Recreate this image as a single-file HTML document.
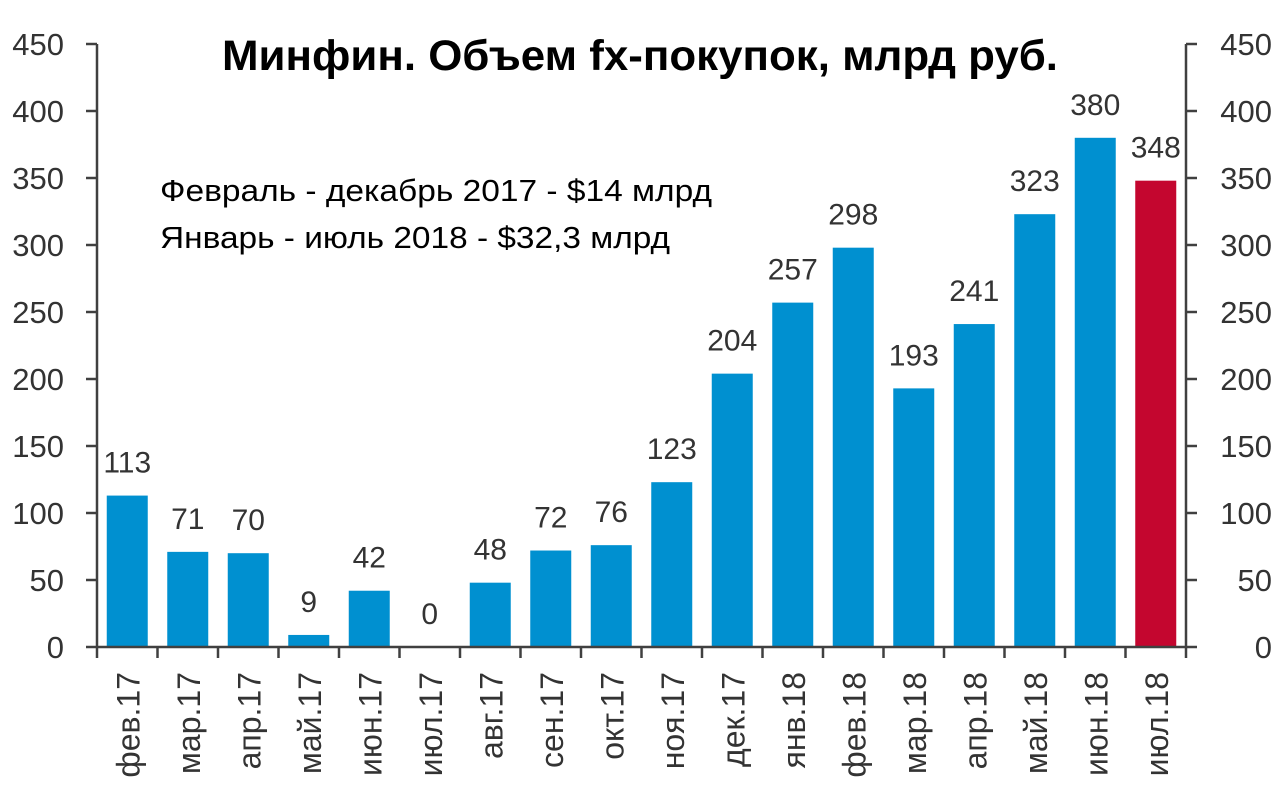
<!DOCTYPE html>
<html><head><meta charset="utf-8"><style>
body{margin:0;background:#fff;}
svg{display:block;font-family:"Liberation Sans","DejaVu Sans",sans-serif;}
</style></head><body>
<svg id="chart" width="1280" height="791">
<text x="640" y="70" text-anchor="middle" font-size="43" font-weight="bold" fill="#000" textLength="836" lengthAdjust="spacingAndGlyphs">Минфин. Объем fx-покупок, млрд руб.</text>
<text x="160" y="201" font-size="31" fill="#000" textLength="552" lengthAdjust="spacingAndGlyphs">Февраль - декабрь 2017 - $14 млрд</text>
<text x="160" y="248" font-size="31" fill="#000" textLength="510" lengthAdjust="spacingAndGlyphs">Январь - июль 2018 - $32,3 млрд</text>
<g id="plot"></g>
</svg>
<script>
const categories=["фев.17","мар.17","апр.17","май.17","июн.17","июл.17","авг.17","сен.17","окт.17","ноя.17","дек.17","янв.18","фев.18","мар.18","апр.18","май.18","июн.18","июл.18"];
const values=[113,71,70,9,42,0,48,72,76,123,204,257,298,193,241,323,380,348];
const highlight=[0,0,0,0,0,0,0,0,0,0,0,0,0,0,0,0,0,1];
const yTicks=[0,50,100,150,200,250,300,350,400,450];
const X0=97,X1=1186,Y0=647,Y1=44,YMAX=450;
const ns="http://www.w3.org/2000/svg";
const g=document.getElementById('plot');
const step=(X1-X0)/categories.length;
const y=v=>Y0-(v/YMAX)*(Y0-Y1);
const xc=i=>X0+step*(i+0.5);
function mk(t,a,p){const e=document.createElementNS(ns,t);for(const k in a)e.setAttribute(k,a[k]);(p||g).appendChild(e);return e;}
values.forEach((v,i)=>{
 const r=mk('rect',{x:xc(i)-20.5,y:y(v),width:41,height:Y0-y(v),fill:highlight[i]?'#c4062f':'#0090d0'});
 
 
 const t=mk('text',{x:xc(i),y:y(v)-23,'text-anchor':'middle','font-size':30,fill:'#333'});
 t.textContent=v;
 
 
 const l=mk('text',{transform:`translate(${xc(i)+12},672) rotate(-90)`,'text-anchor':'end','font-size':32,fill:'#333'});
 l.textContent=categories[i];
 
 
});
for(let i=0;i<=categories.length;i++){
 const x=X0+step*i;
 const tk=mk('line',{x1:x,x2:x,y1:Y0,y2:Y0+11,stroke:'#404040','stroke-width':2.5});
 
 
}
yTicks.forEach(v=>{
 const a=mk('line',{x1:X0-11,x2:X0,y1:y(v),y2:y(v),stroke:'#404040','stroke-width':2.5});
 
 
 const b=mk('line',{x1:X1,x2:X1+11,y1:y(v),y2:y(v),stroke:'#404040','stroke-width':2.5});
 
 
 const tl=mk('text',{x:64,y:y(v)+11,'text-anchor':'end','font-size':31,fill:'#333'});
 tl.textContent=v;
 
 
 const tr=mk('text',{x:1272,y:y(v)+11,'text-anchor':'end','font-size':31,fill:'#333'});
 tr.textContent=v;
 
 
});
const ax=mk('line',{x1:X0,x2:X1,y1:Y0,y2:Y0,stroke:'#404040','stroke-width':2.5});


const yl=mk('line',{x1:X0,x2:X0,y1:Y1,y2:Y0,stroke:'#404040','stroke-width':2.5});


const yr=mk('line',{x1:X1,x2:X1,y1:Y1,y2:Y0,stroke:'#404040','stroke-width':2.5});


</script>
</body></html>
